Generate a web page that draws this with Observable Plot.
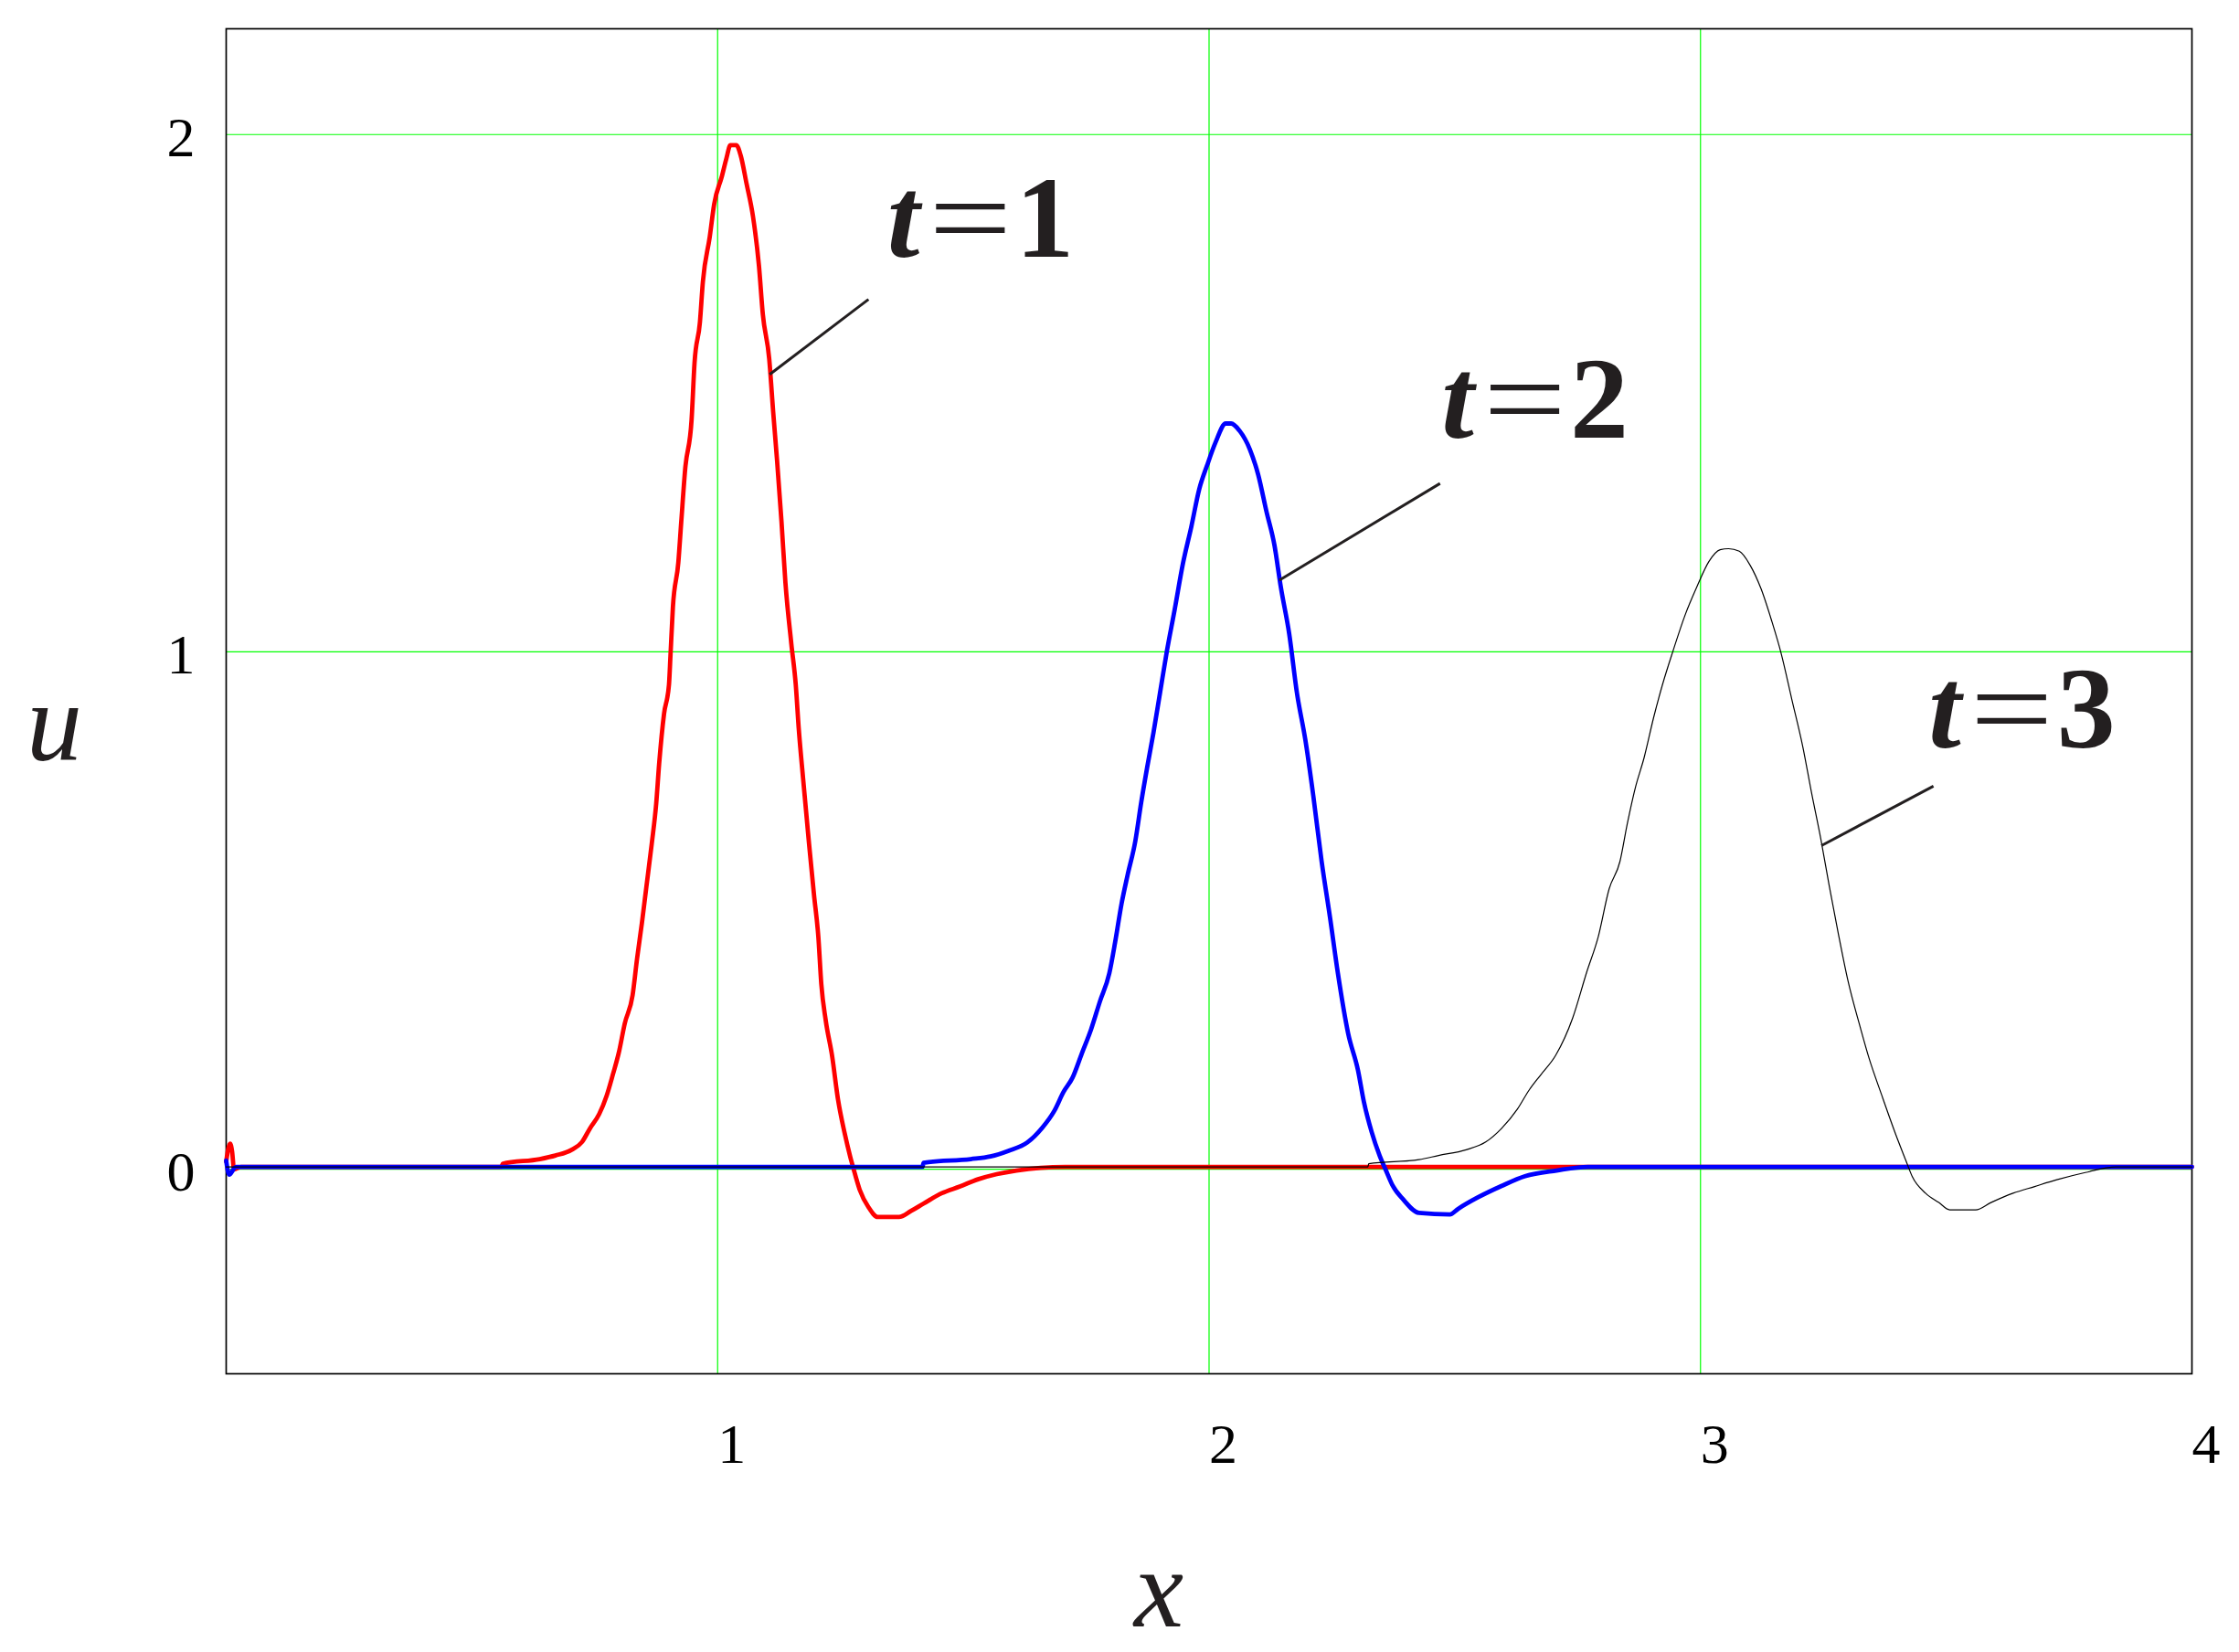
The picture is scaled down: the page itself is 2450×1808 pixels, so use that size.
<!DOCTYPE html>
<html>
<head>
<meta charset="utf-8">
<script src="https://cdn.jsdelivr.net/npm/d3@7"></script>
<script src="https://cdn.jsdelivr.net/npm/@observablehq/plot@0.6"></script>
<style>
html, body { margin: 0; padding: 0; background: #ffffff; overflow: hidden; }
#chart svg { display: block; }
</style>
</head>
<body>
<div id="chart"></div>
<script>
// ---- axes ----
const xTicks = [1, 2, 3, 4];
const yTicks = [0, 1, 2];
const gridXValues = [1, 2, 3];
const gridYValues = [0, 1, 2];
const xTitle = "x";
const yTitle = "u";

// ---- series t = 1 (red) ----
const t1X = [0, 0.008, 0.012, 0.016, 0.03, 0.56, 0.563, 0.638, 0.67, 0.703, 0.724, 0.74, 0.759, 0.774, 0.787, 0.799,
  0.811, 0.827, 0.836, 0.846, 0.855, 0.866, 0.875, 0.881, 0.891, 0.901, 0.904, 0.909, 0.92, 0.926, 0.934, 0.947,
  0.953, 0.964, 0.97, 0.984, 0.993, 1.009, 1.018, 1.026, 1.038, 1.047, 1.059, 1.072, 1.084, 1.092, 1.105, 1.113,
  1.121, 1.13, 1.138, 1.15, 1.159, 1.165, 1.174, 1.186, 1.196, 1.205, 1.211, 1.22, 1.233, 1.245, 1.258, 1.27,
  1.276, 1.289, 1.307, 1.326, 1.369, 1.394, 1.419, 1.456, 1.493, 1.53, 1.568, 1.608, 1.707, 4];
const t1U = [0.01, 0.045, 0.03, -0.005, 0, 0, 0.006, 0.015, 0.022, 0.033, 0.048, 0.074, 0.102, 0.137, 0.179, 0.221,
  0.277, 0.332, 0.402, 0.472, 0.541, 0.625, 0.702, 0.779, 0.876, 0.932, 0.987, 1.082, 1.168, 1.247, 1.349, 1.444,
  1.554, 1.633, 1.711, 1.798, 1.861, 1.916, 1.95, 1.975, 1.975, 1.955, 1.9, 1.837, 1.743, 1.648, 1.562, 1.46,
  1.365, 1.247, 1.129, 1.011, 0.932, 0.848, 0.75, 0.625, 0.527, 0.444, 0.353, 0.283, 0.214, 0.13, 0.067, 0.019,
  -0.002, -0.044, -0.078, -0.097, -0.097, -0.085, -0.071, -0.051, -0.038, -0.024, -0.014, -0.007, 0, 0];

// ---- series t = 2 (blue) ----
const t2X = [0, 0.006, 0.02, 1.417, 1.419, 1.515, 1.555, 1.592, 1.63, 1.661, 1.685, 1.704, 1.722, 1.741, 1.76, 1.778,
  1.797, 1.809, 1.822, 1.834, 1.85, 1.862, 1.874, 1.887, 1.9, 1.914, 1.93, 1.947, 1.964, 1.98, 1.996, 2.013,
  2.034, 2.045, 2.062, 2.083, 2.1, 2.117, 2.133, 2.146, 2.163, 2.179, 2.196, 2.212, 2.229, 2.246, 2.262, 2.283,
  2.303, 2.315, 2.331, 2.347, 2.36, 2.374, 2.395, 2.427, 2.49, 2.507, 2.547, 2.595, 2.643, 2.707, 2.771, 4];
const t2U = [0.012, -0.015, 0, 0, 0.008, 0.015, 0.02, 0.031, 0.047, 0.076, 0.108, 0.145, 0.172, 0.219, 0.266, 0.32,
  0.374, 0.435, 0.509, 0.563, 0.63, 0.705, 0.772, 0.84, 0.915, 0.996, 1.077, 1.167, 1.238, 1.31, 1.356, 1.4,
  1.437, 1.437, 1.423, 1.387, 1.338, 1.266, 1.202, 1.121, 1.031, 0.915, 0.825, 0.718, 0.591, 0.483, 0.375, 0.258,
  0.187, 0.126, 0.067, 0.022, -0.007, -0.037, -0.063, -0.089, -0.092, -0.081, -0.059, -0.037, -0.018, -0.007, 0, 0];

// ---- series t = 3 (black, thin) ----
const t3X = [0, 2.323, 2.325, 2.427, 2.467, 2.523, 2.563, 2.595, 2.627, 2.651, 2.675, 2.705, 2.74, 2.768, 2.792, 2.814,
  2.836, 2.851, 2.868, 2.885, 2.905, 2.922, 2.945, 2.968, 2.993, 3.017, 3.04, 3.057, 3.079, 3.101, 3.123, 3.145,
  3.164, 3.186, 3.208, 3.226, 3.245, 3.262, 3.28, 3.3, 3.325, 3.343, 3.369, 3.396, 3.418, 3.431, 3.458, 3.485,
  3.507, 3.56, 3.591, 3.636, 3.68, 3.725, 3.783, 3.845, 4];
const t3U = [0, 0, 0.006, 0.014, 0.022, 0.033, 0.048, 0.074, 0.111, 0.148, 0.178, 0.215, 0.288, 0.375, 0.445, 0.537,
  0.59, 0.663, 0.735, 0.79, 0.87, 0.93, 1.0, 1.065, 1.122, 1.17, 1.193, 1.195, 1.19, 1.163, 1.118, 1.055,
  0.993, 0.903, 0.813, 0.723, 0.633, 0.543, 0.453, 0.36, 0.27, 0.21, 0.138, 0.066, 0.012, -0.019, -0.051, -0.069,
  -0.083, -0.083, -0.069, -0.051, -0.038, -0.025, -0.011, 0, 0];

// ---- curve labels and leader lines ----
const labelTexts = ["t=1", "t=2", "t=3"];
const labelX = [1.345, 2.473, 3.464];
const labelU = [1.759, 1.409, 0.81];
const leaderX1 = [1.106, 2.143, 3.246];
const leaderU1 = [1.532, 1.134, 0.621];
const leaderX2 = [1.307, 2.47, 3.474];
const leaderU2 = [1.677, 1.321, 0.736];

const FONT = '"Liberation Serif", "Times New Roman", Times, serif';
const rows = (xs, us) => xs.map((x, i) => ({x, u: us[i]}));
const labelRows = labelTexts.map((text, i) => ({text, x: labelX[i], u: labelU[i]}));
const leaderRows = leaderX1.map((x1, i) => ({x1, u1: leaderU1[i], x2: leaderX2[i], u2: leaderU2[i]}));
const intFormat = d => String(d);

const chart = Plot.plot({
  width: 2450,
  height: 1808,
  marginLeft: 247,
  marginRight: 52,
  marginTop: 31,
  marginBottom: 305,
  x: {domain: [0, 4], axis: null},
  y: {domain: [-0.4, 2.2], axis: null},
  style: {fontFamily: FONT, background: "white", color: "black"},
  marks: [
    Plot.ruleX(gridXValues, {x: d => d, stroke: "#00ff00", strokeWidth: 1.2}),
    Plot.ruleY(gridYValues, {y: d => d, stroke: "#00ff00", strokeWidth: 1.2, dy: 2.5}),
    Plot.frame({stroke: "black", strokeWidth: 1.7}),
    Plot.axisX(xTicks, {tickSize: 0, tickPadding: 53, textAnchor: "start", fontSize: 62, fontFamily: FONT,
      label: null, fill: "black", tickFormat: intFormat}),
    Plot.axisY(yTicks, {tickSize: 0, tickPadding: 34, fontSize: 62, fontFamily: FONT, dy: 6,
      label: null, fill: "black", tickFormat: intFormat}),
    Plot.line(rows(t1X, t1U), {x: "x", y: "u", stroke: "#ff0000", strokeWidth: 4.8, curve: "monotone-x"}),
    Plot.line(rows(t2X, t2U), {x: "x", y: "u", stroke: "#0000ff", strokeWidth: 4.8, curve: "monotone-x"}),
    Plot.line(rows(t3X, t3U), {x: "x", y: "u", stroke: "#000000", strokeWidth: 1.2, curve: "monotone-x"}),
    Plot.link(leaderRows, {x1: "x1", y1: "u1", x2: "x2", y2: "u2", stroke: "#231f20", strokeWidth: 3}),
    Plot.text(labelRows, {x: "x", y: "u", text: "text", textAnchor: "start", lineAnchor: "bottom",
      fontSize: 128, fontWeight: "bold", fontFamily: FONT, fill: "#231f20", ariaDescription: "curve-labels"}),
    Plot.text([xTitle], {text: d => d, frameAnchor: "bottom", textAnchor: "middle", lineAnchor: "bottom",
      dx: -55, dy: 276, fontSize: 122, fontStyle: "italic", fontFamily: FONT, fill: "#231f20"}),
    Plot.text([yTitle], {text: d => d, frameAnchor: "left", textAnchor: "middle", lineAnchor: "bottom",
      dx: -188, dy: 64, fontSize: 122, fontStyle: "italic", fontFamily: FONT, fill: "#231f20"})
  ]
});

// Italic variable, wide equals sign in the curve labels
d3.select(chart).selectAll('g[aria-description="curve-labels"] text').each(function () {
  const s = this.textContent;
  const k = s.indexOf("=");
  const el = d3.select(this);
  el.text(null);
  el.append("tspan").attr("font-style", "italic").text(s.slice(0, k));
  el.append("tspan").attr("dx", 10).attr("font-weight", "normal")
    .attr("textLength", 91).attr("lengthAdjust", "spacingAndGlyphs").text("=");
  el.append("tspan").attr("dx", 4).text(s.slice(k + 1));
});

document.getElementById("chart").appendChild(chart);
</script>
</body>
</html>
